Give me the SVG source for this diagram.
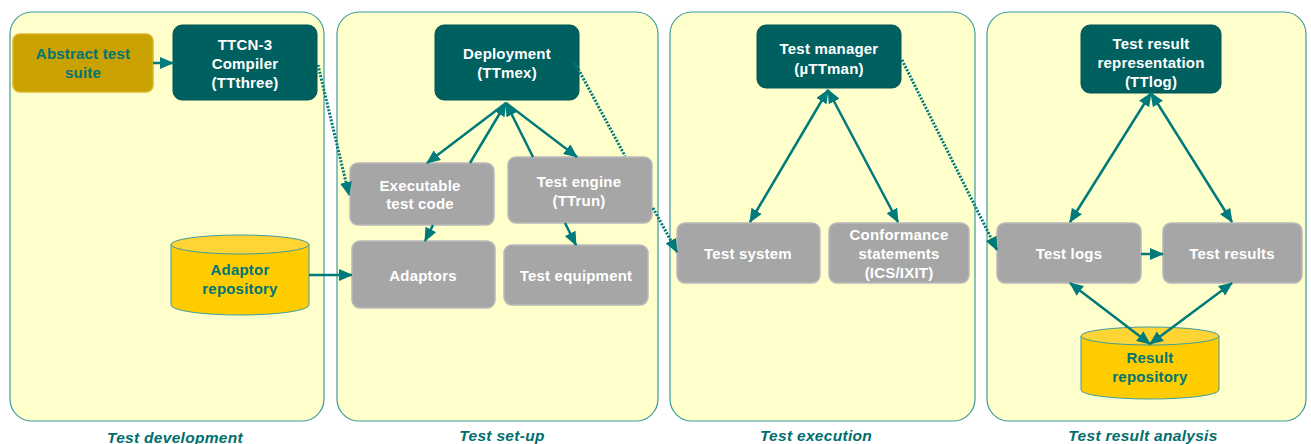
<svg xmlns="http://www.w3.org/2000/svg" width="1311" height="444" viewBox="0 0 1311 444">
<style>
.panel{fill:#FFFFCC;stroke:#3F9C9C;stroke-width:1.2}
.dark{fill:#006060;stroke:#005454;stroke-width:1}
.gray{fill:#A6A6A6;stroke:#B9B9B9;stroke-width:1.5}
.gold{fill:#C9A100;stroke:#D8B628;stroke-width:1.5}
.cyl{fill:#FFCC00;stroke:#3F9C9C;stroke-width:1}
.cyltop{fill:#FFD535;stroke:#3F9C9C;stroke-width:1}
.wt{font-family:"Liberation Sans",Arial,sans-serif;font-weight:bold;font-size:15px;fill:#FFFFFF;text-anchor:middle;letter-spacing:0.2px}
.tt{font-family:"Liberation Sans",Arial,sans-serif;font-weight:bold;font-size:15px;fill:#007575;text-anchor:middle;letter-spacing:0.2px}
.lbl{font-family:"Liberation Sans",Arial,sans-serif;font-weight:bold;font-style:italic;font-size:15.5px;fill:#006E6E;text-anchor:middle;letter-spacing:0.3px}
.c{fill:none;stroke:#007A7A;stroke-width:2.5}
.d{fill:none;stroke:#007A7A;stroke-width:3;stroke-dasharray:2 1.5}
</style>
<defs>
<marker id="ah" markerWidth="14" markerHeight="12" refX="13" refY="6" orient="auto-start-reverse" markerUnits="userSpaceOnUse"><path d="M0,0 L14,6 L0,12 z" fill="#007A7A"/></marker>
</defs>
<g id="panels">
<rect class="panel" x="10" y="12" width="314" height="409" rx="22"/>
<rect class="panel" x="337" y="12" width="321" height="409" rx="22"/>
<rect class="panel" x="670" y="12" width="305" height="409" rx="22"/>
<rect class="panel" x="987" y="12" width="319" height="409" rx="22"/>
<text class="lbl" x="175" y="443">Test development</text>
<text class="lbl" x="502" y="441">Test set-up</text>
<text class="lbl" x="816" y="441">Test execution</text>
<text class="lbl" x="1143" y="441">Test result analysis</text>
</g>
<g id="abstract-test-suite">
<rect class="gold" x="13" y="34" width="140" height="58" rx="7"/>
<text class="tt" x="83" y="59">Abstract test</text>
<text class="tt" x="83" y="78">suite</text>
</g>
<g id="ttcn3-compiler">
<rect class="dark" x="173" y="25" width="144" height="75" rx="9"/>
<text class="wt" x="245" y="50">TTCN-3</text>
<text class="wt" x="245" y="69">Compiler</text>
<text class="wt" x="245" y="88">(TTthree)</text>
</g>
<g id="adaptor-repository">
<path class="cyl" d="M171,244.5 L171,305 A69,10 0 0 0 309,305 L309,244.5"/>
<ellipse class="cyltop" cx="240" cy="244.5" rx="69" ry="9.5"/>
<text class="tt" x="240" y="275">Adaptor</text>
<text class="tt" x="240" y="294">repository</text>
</g>
<g id="deployment">
<rect class="dark" x="435" y="25" width="144" height="75" rx="9"/>
<text class="wt" x="507" y="59">Deployment</text>
<text class="wt" x="507" y="78">(TTmex)</text>
</g>
<g id="executable-test-code">
<rect class="gray" x="350" y="163" width="144" height="62" rx="8"/>
<text class="wt" x="420" y="191">Executable</text>
<text class="wt" x="420" y="209">test code</text>
</g>
<g id="test-engine">
<rect class="gray" x="508" y="157" width="144" height="66" rx="8"/>
<text class="wt" x="579" y="187">Test engine</text>
<text class="wt" x="579" y="206">(TTrun)</text>
</g>
<g id="adaptors">
<rect class="gray" x="352" y="241" width="143" height="67" rx="8"/>
<text class="wt" x="423" y="281">Adaptors</text>
</g>
<g id="test-equipment">
<rect class="gray" x="504" y="245" width="144" height="60" rx="8"/>
<text class="wt" x="576" y="281">Test equipment</text>
</g>
<g id="test-manager">
<rect class="dark" x="757" y="25" width="144" height="63" rx="9"/>
<text class="wt" x="829" y="54">Test manager</text>
<text class="wt" x="829" y="74">(µTTman)</text>
</g>
<g id="test-system">
<rect class="gray" x="677" y="223" width="143" height="60" rx="8"/>
<text class="wt" x="748" y="259">Test system</text>
</g>
<g id="conformance-statements">
<rect class="gray" x="829" y="223" width="140" height="60" rx="8"/>
<text class="wt" x="899" y="240">Conformance</text>
<text class="wt" x="899" y="259">statements</text>
<text class="wt" x="899" y="278">(ICS/IXIT)</text>
</g>
<g id="test-result-representation">
<rect class="dark" x="1081" y="25" width="140" height="68" rx="9"/>
<text class="wt" x="1151" y="49">Test result</text>
<text class="wt" x="1151" y="68">representation</text>
<text class="wt" x="1151" y="87">(TTlog)</text>
</g>
<g id="test-logs">
<rect class="gray" x="997" y="223" width="144" height="60" rx="8"/>
<text class="wt" x="1069" y="259">Test logs</text>
</g>
<g id="test-results">
<rect class="gray" x="1163" y="223" width="139" height="60" rx="8"/>
<text class="wt" x="1232" y="259">Test results</text>
</g>
<g id="result-repository">
<path class="cyl" d="M1081,336 L1081,390 A69,9 0 0 0 1219,390 L1219,336"/>
<ellipse class="cyltop" cx="1150" cy="336" rx="69" ry="9"/>
<text class="tt" x="1150" y="363">Result</text>
<text class="tt" x="1150" y="382">repository</text>
</g>
<g id="connectors">
<line class="c" x1="153" y1="63" x2="173" y2="63" marker-end="url(#ah)"/>
<line class="d" x1="318" y1="65" x2="349" y2="195" marker-end="url(#ah)"/>
<line class="c" x1="506" y1="103" x2="427" y2="163" marker-end="url(#ah)"/>
<line class="c" x1="506" y1="103" x2="577" y2="157" marker-end="url(#ah)"/>
<line class="c" x1="470" y1="163" x2="506" y2="103" marker-end="url(#ah)"/>
<line class="c" x1="533" y1="157" x2="506" y2="103" marker-end="url(#ah)"/>
<path class="d" d="M575,63 L625,156 M653,208 L677,252" marker-end="url(#ah)"/>
<line class="c" x1="433" y1="225" x2="425" y2="241" marker-end="url(#ah)"/>
<line class="c" x1="565" y1="223" x2="576" y2="245" marker-end="url(#ah)"/>
<line class="c" x1="309" y1="275" x2="352" y2="275" marker-end="url(#ah)"/>
<line class="c" x1="828" y1="90" x2="750" y2="222" marker-start="url(#ah)" marker-end="url(#ah)"/>
<line class="c" x1="828" y1="90" x2="898" y2="222" marker-start="url(#ah)" marker-end="url(#ah)"/>
<line class="d" x1="902" y1="60" x2="997" y2="250" marker-end="url(#ah)"/>
<line class="c" x1="1151" y1="93" x2="1070" y2="222" marker-start="url(#ah)" marker-end="url(#ah)"/>
<line class="c" x1="1151" y1="93" x2="1232" y2="222" marker-start="url(#ah)" marker-end="url(#ah)"/>
<line class="c" x1="1141" y1="254" x2="1163" y2="254" marker-end="url(#ah)"/>
<line class="c" x1="1070" y1="283" x2="1150" y2="344" marker-start="url(#ah)" marker-end="url(#ah)"/>
<line class="c" x1="1232" y1="283" x2="1150" y2="344" marker-start="url(#ah)" marker-end="url(#ah)"/>
</g>
</svg>
